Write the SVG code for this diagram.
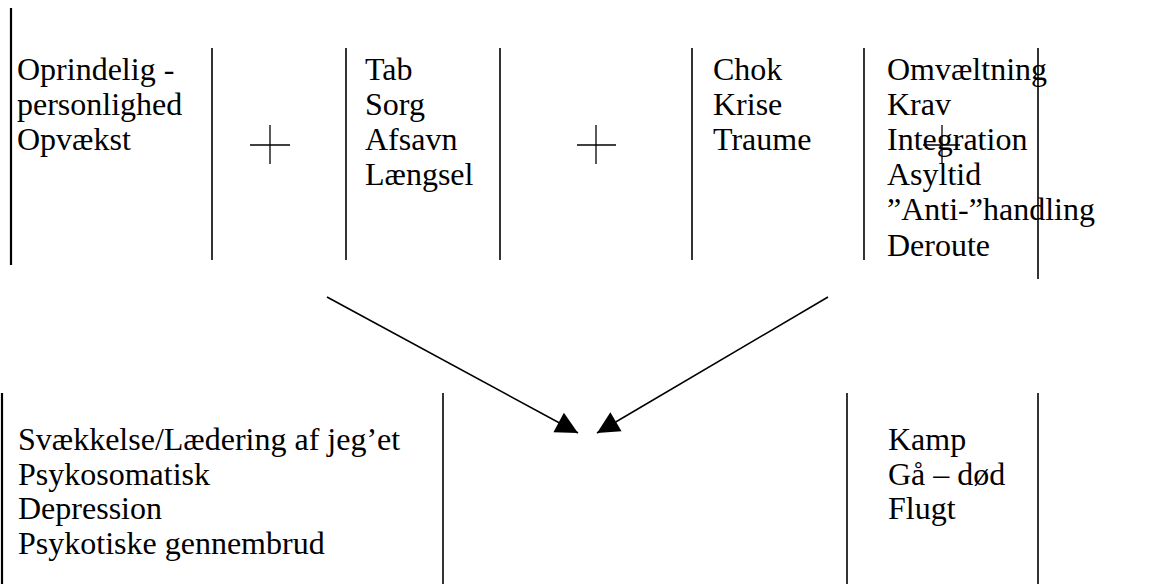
<svg xmlns="http://www.w3.org/2000/svg" width="1159" height="584" viewBox="0 0 1159 584">
<style>
text{font-family:"Liberation Serif","Times New Roman",serif;font-size:32px;fill:#000}
.v{stroke:#000;stroke-width:1.6;fill:none}
.vt{stroke:#000;stroke-width:2.2;fill:none}
.p{stroke:#000;stroke-width:1.3;fill:none}
.a{stroke:#000;stroke-width:1.6;fill:none;marker-end:url(#ah)}
</style>
<defs>
<marker id="ah" markerUnits="userSpaceOnUse" markerWidth="24" markerHeight="24" viewBox="0 -12 23 24" refX="22" refY="0" orient="auto">
<path d="M0,-11 L22,0 L0,11 z" fill="#000"/>
</marker>
</defs>
<g id="n-origin">
<line class="vt" x1="11" y1="8" x2="11" y2="265"/>
<text x="17" y="79.5">Oprindelig -</text>
<text x="17" y="114.7">personlighed</text>
<text x="17" y="149.9">Opvækst</text>
<line class="v" x1="212" y1="48" x2="212" y2="260"/>
</g>
<g id="n-plus1">
<line class="p" x1="250" y1="145" x2="290" y2="145"/>
<line class="p" x1="270" y1="125" x2="270" y2="164"/>
</g>
<g id="n-loss">
<line class="v" x1="346" y1="48" x2="346" y2="260"/>
<text x="365" y="79.5">Tab</text>
<text x="365" y="114.7">Sorg</text>
<text x="365" y="149.9">Afsavn</text>
<text x="365" y="185.1">Længsel</text>
<line class="v" x1="500" y1="48" x2="500" y2="260"/>
</g>
<g id="n-plus2">
<line class="p" x1="577" y1="145" x2="616" y2="145"/>
<line class="p" x1="596" y1="125" x2="596" y2="164"/>
</g>
<g id="n-shock">
<line class="v" x1="692" y1="48" x2="692" y2="260"/>
<text x="713" y="79.5">Chok</text>
<text x="713" y="114.7">Krise</text>
<text x="713" y="149.9">Traume</text>
</g>
<g id="n-upheaval">
<line class="v" x1="864" y1="48" x2="864" y2="260"/>
<text x="887" y="79.5">Omvæltning</text>
<text x="887" y="114.7">Krav</text>
<text x="887" y="149.9">Integration</text>
<text x="887" y="185.1">Asyltid</text>
<text x="887" y="220.3">”Anti-”handling</text>
<text x="887" y="255.5">Deroute</text>
<line class="v" x1="1038" y1="48" x2="1038" y2="279"/>
</g>
<g id="n-plus3">
<line class="p" x1="923" y1="145" x2="960" y2="145"/>
<line class="p" x1="942" y1="125" x2="942" y2="164"/>
</g>
<g id="n-effects">
<line class="vt" x1="2" y1="393" x2="2" y2="584"/>
<text x="18" y="450">Svækkelse/Lædering af jeg’et</text>
<text x="18" y="484.7">Psykosomatisk</text>
<text x="18" y="519.4">Depression</text>
<text x="18" y="554">Psykotiske gennembrud</text>
<line class="v" x1="443" y1="393" x2="443" y2="584"/>
</g>
<g id="n-response">
<line class="v" x1="847" y1="393" x2="847" y2="584"/>
<text x="888" y="450">Kamp</text>
<text x="888" y="484.7">Gå – død</text>
<text x="888" y="519.4">Flugt</text>
<line class="v" x1="1038" y1="393" x2="1038" y2="584"/>
</g>
<g id="connectors">
<line class="a" x1="327" y1="297" x2="578" y2="433"/>
<line class="a" x1="828" y1="297" x2="597" y2="433"/>
</g>
</svg>
